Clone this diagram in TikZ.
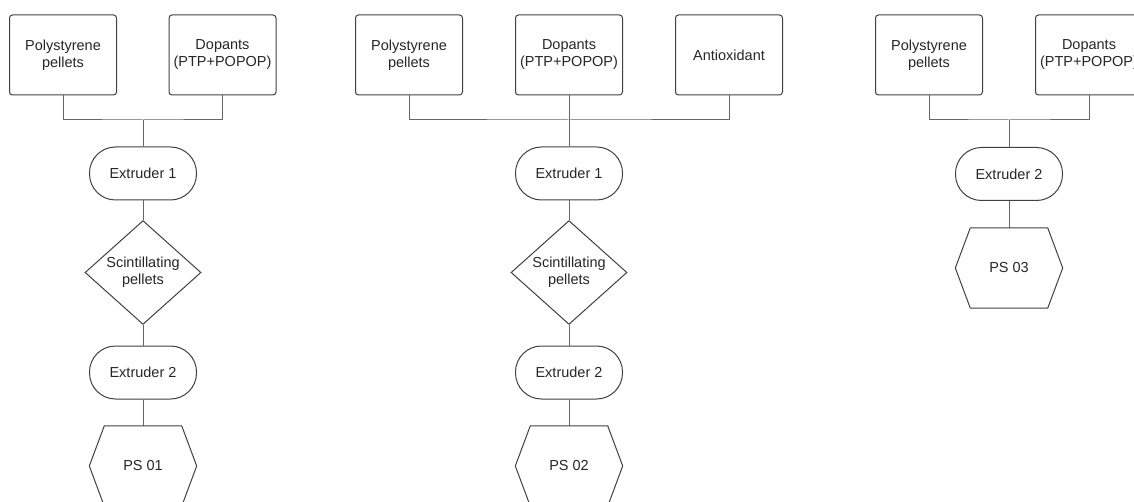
\documentclass[tikz,border=0pt]{standalone}
\usepackage{fontspec}
\setmainfont{Liberation Sans}
\usetikzlibrary{shapes.geometric}

\begin{document}
\begin{tikzpicture}[x=1pt,y=-1pt]
\tikzstyle{every node}=[font=\fontsize{14.5}{17}\selectfont, text=black!85, align=center]
\tikzstyle{src}=[draw=black!75, line width=1pt, rounded corners=3pt, minimum width=107, minimum height=80, inner sep=0]
\tikzstyle{ext}=[draw=black!75, line width=1pt, rounded corners=26pt, minimum width=107, minimum height=53, inner sep=0]
\tikzstyle{pel}=[draw=black!75, line width=1pt, diamond, inner sep=0, minimum width=116, minimum height=91]
\tikzstyle{prod}=[minimum width=107, minimum height=80]
\tikzstyle{wire}=[draw=black!60, line width=1pt]
%\draw [red!40](0,0) grid (1134,502);
\clip (0,0) rectangle (1134,502);

% first line
\node (ps1) at (63,55) [src] {Polystyrene\\pellets};
\node (dp1) at (222.5,55) [src] {Dopants\\(PTP+POPOP)};
\coordinate (j1) at (143,120);
\node (e11) at (143,173.5) [ext] {Extruder 1};
\node (sc1) at (143,272.5) [pel] {Scintillating\\pellets};
\node (e21) at (143,372.5) [ext] {Extruder 2};
\node (ps01) at (143,466) [prod] {PS 01};
\draw [wire] (ps1.south) |- (j1) -| (dp1.south);
\draw [wire] (j1) -- (e11.north);
\draw [wire] (e11.south) -- (sc1.north);
\draw [wire] (sc1.south) -- (e21.north);
\draw [wire] (e21.south) -- (ps01.north);

% second line
\node (ps2) at (409,55) [src] {Polystyrene\\pellets};
\node (dp2) at (569,55) [src] {Dopants\\(PTP+POPOP)};
\node (ao2) at (729,55) [src] {Antioxidant};
\coordinate (j2) at (569,120);
\node (e12) at (569,173.5) [ext] {Extruder 1};
\node (sc2) at (569,272.5) [pel] {Scintillating\\pellets};
\node (e22) at (569,372.5) [ext] {Extruder 2};
\node (ps02) at (569,466) [prod] {PS 02};
\draw [wire] (ps2.south) |- (j2) -| (ao2.south);
\draw [wire] (dp2.south) -- (e12.north);
\draw [wire] (e12.south) -- (sc2.north);
\draw [wire] (sc2.south) -- (e22.north);
\draw [wire] (e22.south) -- (ps02.north);

% third line
\node (ps3) at (929,55) [src] {Polystyrene\\pellets};
\node (dp3) at (1089,55) [src] {Dopants\\(PTP+POPOP)};
\coordinate (j3) at (1009,120);
\node (e23) at (1009,174) [ext] {Extruder 2};
\node (ps03) at (1009,268) [prod] {PS 03};
\draw [wire] (ps3.south) |- (j3) -| (dp3.south);
\draw [wire] (j3) -- (e23.north);
\draw [wire] (e23.south) -- (ps03.north);

% hexagons
\foreach \h in {ps01,ps02,ps03}
  \draw [draw=black!75, line width=1pt] ([xshift=15]\h.north west) -- ([xshift=-15]\h.north east)
    -- (\h.east) -- ([xshift=-15]\h.south east) -- ([xshift=15]\h.south west) -- (\h.west) -- cycle;
\end{tikzpicture}
\end{document}
